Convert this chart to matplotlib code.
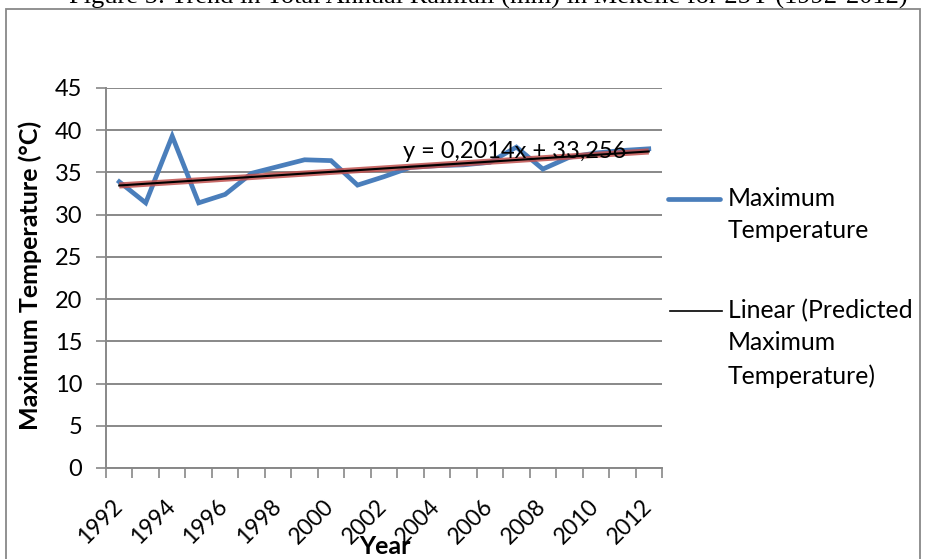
import matplotlib
matplotlib.use("Agg")
import matplotlib.pyplot as plt
from matplotlib.lines import Line2D
from matplotlib.patches import Rectangle
from matplotlib.transforms import ScaledTranslation
import numpy as np

years = list(range(1992, 2013))
max_temp = [33.9, 31.4, 39.3, 31.4, 32.4, 34.9, 35.7, 36.5, 36.4, 33.5,
            34.5, 35.6, 35.8, 35.9, 36.2, 38.0, 35.4, 36.8, 37.3, 37.6, 37.8]
trend_slope = 0.2014
trend_intercept = 33.256
tick_labels = [str(y) for y in years[::2]]
y_ticks = list(range(0, 50, 5))

W, H = 929, 559
fig = plt.figure(figsize=(W / 100, H / 100), dpi=100)
FONT = "Lato"

def fx(x):
    return x / W

def fy(y):
    return 1 - y / H

ax = fig.add_axes([fx(106), fy(468), fx(662) - fx(106), fy(88) - fy(468)])

x = np.arange(len(years))
ax.plot(x, max_temp, color="#4A7EBB", lw=3.4, solid_joinstyle="miter", zorder=3)
trend = trend_intercept + trend_slope * (x + 1)
ax.plot(x, trend, color="#C0504D", lw=4.4, alpha=0.85, solid_capstyle="butt", zorder=4)
ax.plot(x, trend, color="black", lw=1.5, zorder=5)

ax.set_xlim(-0.5, len(years) - 0.5)
ax.set_ylim(0, 45)
ax.set_yticks(y_ticks)
ax.set_yticklabels([str(v) for v in y_ticks], fontsize=17, family=FONT)
ax.yaxis.grid(True, color="#888888", lw=1.4)
ax.set_axisbelow(True)
ax.tick_params(axis="y", length=7, width=1.2, color="#888888", pad=10)

ax.set_xticks(x[::2])
ax.set_xticklabels(tick_labels, rotation=45, ha="right", rotation_mode="anchor",
                   fontsize=16.5, family=FONT)
ax.set_xticks(np.arange(-0.5, len(years), 1.0), minor=True)
ax.tick_params(axis="x", which="major", length=0, pad=20)
ax.tick_params(axis="x", which="minor", length=7, width=1.2, color="#888888")
shift = ScaledTranslation(-8 / 100, 0, fig.dpi_scale_trans)
for lab in ax.get_xticklabels():
    lab.set_transform(lab.get_transform() + shift)

for s in ["top", "right"]:
    ax.spines[s].set_visible(False)
for s in ["left", "bottom"]:
    ax.spines[s].set_color("#888888")
    ax.spines[s].set_linewidth(1.4)

# axis titles
fig.text(fx(30), fy(275), "Maximum Temperature (°C)", rotation=90, ha="center", va="center",
         fontsize=18, fontweight="bold", family=FONT)
fig.text(fx(385), fy(547), "Year", ha="center", va="center",
         fontsize=18, fontweight="bold", family=FONT)

# trendline equation
fig.text(fx(403), fy(152), "y = 0,2014x + 33,256", ha="left", va="center",
         fontsize=17, family=FONT, zorder=10)

# legend
fig.add_artist(Line2D([fx(668), fx(720)], [fy(199), fy(199)], color="#4A7EBB", lw=3.4,
                      solid_capstyle="round"))
fig.add_artist(Line2D([fx(670), fx(722)], [fy(311), fy(311)], color="black", lw=1.2))
for txt, yy in [("Maximum", 199), ("Temperature", 231),
                ("Linear (Predicted", 311), ("Maximum", 343), ("Temperature)", 376)]:
    fig.text(fx(728), fy(yy), txt, ha="left", va="center", fontsize=17.8, family=FONT)

# outer border
fig.add_artist(Rectangle((fx(6), fy(H + 5)), fx(920) - fx(6), fy(9) - fy(H + 5),
                         fill=False, edgecolor="#888888", lw=1.3, transform=fig.transFigure))

# caption above (partly cut off by the top edge, as in the reference)
fig.text(fx(488), fy(4), "Figure 5: Trend in Total Annual Rainfall (mm) in Mekelle for 25Y (1992-2012)",
         ha="center", va="baseline", fontsize=19, family="Liberation Serif")

fig.savefig("out.png", dpi=100)
